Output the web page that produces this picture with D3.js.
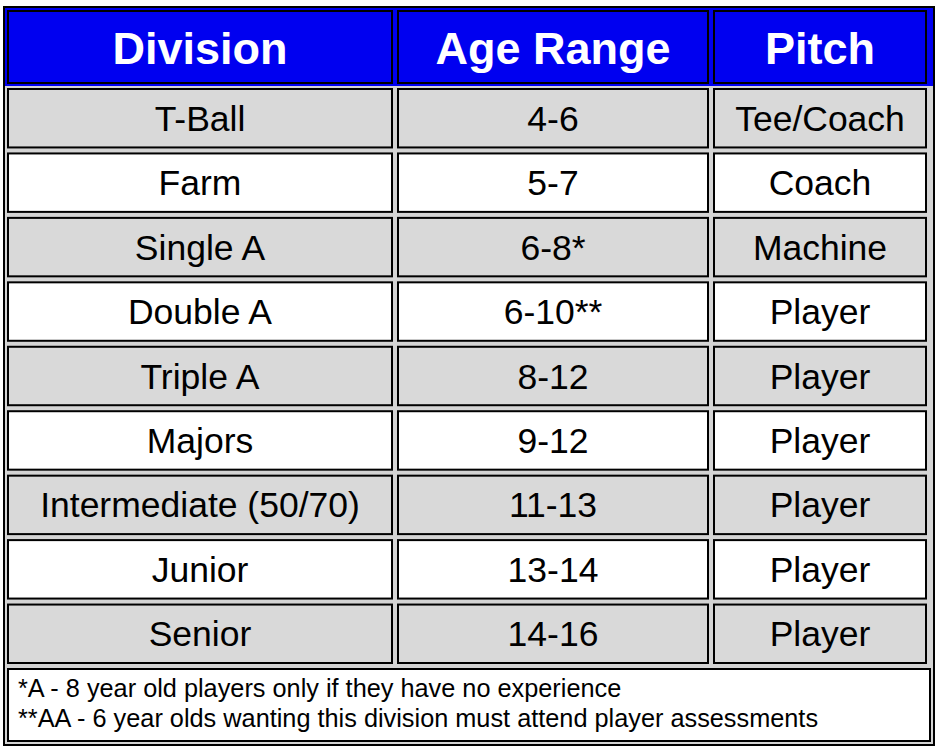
<!DOCTYPE html><html><head><meta charset="utf-8"><script src="https://cdn.jsdelivr.net/npm/d3@7"></script>
<style>body{margin:0;background:#fff}</style></head><body><svg id="c" width="938" height="748"></svg>
<script>
const headers=["Division","Age Range","Pitch"];
const divisions=["T-Ball","Farm","Single A","Double A","Triple A","Majors","Intermediate (50/70)","Junior","Senior"];
const ages=["4-6","5-7","6-8*","6-10**","8-12","9-12","11-13","13-14","14-16"];
const pitches=["Tee/Coach","Coach","Machine","Player","Player","Player","Player","Player","Player"];
const notes=["*A - 8 year old players only if they have no experience","**AA - 6 year olds wanting this division must attend player assessments"];
const svg=d3.select("#c");
const font="Liberation Sans, Arial, sans-serif";
svg.append("rect").attr("x",4).attr("y",7).attr("width",930).attr("height",738).attr("fill","#d4d4d4").attr("stroke","#000").attr("stroke-width",2);
svg.append("rect").attr("x",5).attr("y",8).attr("width",928).attr("height",78).attr("fill","#0000f0");
const colX=[7,397,713,931];
const rowY=d3.scaleLinear().domain([0,9]).range([88,668]);
function cell(x0,x1,y0,y1,fill){
  svg.append("rect").attr("x",x0+1).attr("y",y0+1).attr("width",x1-x0-2).attr("height",y1-y0-2)
   .attr("fill",fill).attr("stroke","#000").attr("stroke-width",2);
}
headers.forEach((h,i)=>{
  cell(colX[i],colX[i+1]-4,10,84,"#0000f0");
  svg.append("text").attr("x",(colX[i]+colX[i+1]-4)/2).attr("y",64)
   .attr("text-anchor","middle").attr("font-family",font).attr("font-weight","bold").attr("font-size",45).attr("fill","#fff").text(h);
});
const cols=[divisions,ages,pitches];
divisions.forEach((d,r)=>{
  const fill=r%2===0?"#d9d9d9":"#fff";
  cols.forEach((arr,i)=>{
    const y0=rowY(r),y1=rowY(r+1)-4;
    cell(colX[i],colX[i+1]-4,y0,y1,fill);
    svg.append("text").attr("x",(colX[i]+colX[i+1]-4)/2).attr("y",(y0+y1)/2+12.5)
     .attr("text-anchor","middle").attr("font-family",font).attr("font-size",35.5).attr("fill","#000").text(arr[r]);
  });
});
cell(7,931,668,742,"#fff");
notes.forEach((n,i)=>svg.append("text").attr("x",18).attr("y",697+i*30).attr("font-family",font).attr("font-size",25.3).attr("fill","#000").text(n));
</script></body></html>
